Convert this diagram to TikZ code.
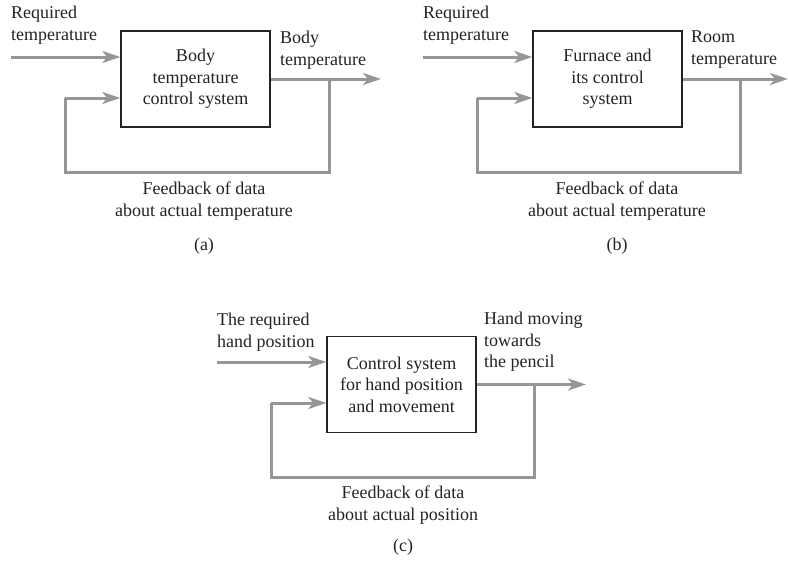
\documentclass[tikz,border=0pt]{standalone}
\usepackage{fontspec}
\setmainfont{Liberation Serif}
\usetikzlibrary{arrows.meta, positioning}
\definecolor{linegray}{RGB}{150,150,153}
\definecolor{inkgray}{RGB}{35,35,35}
\begin{document}
\begin{tikzpicture}[x=1pt,y=-1pt]

\tikzset{sysbox/.style = {shape=rectangle,draw=inkgray,line width=1.4pt,minimum width=149pt,minimum height=96pt,align=center,inner sep=0pt}}
\tikzset{lbl/.style = {align=left,inner sep=0pt,anchor=north west}}
\tikzset{note/.style = {align=center,inner sep=0pt}}
\tikzset{signal/.style = {draw=linegray,line width=3pt,-{Stealth[length=18pt,width=12pt,inset=5pt]}}}
\tikzset{loop/.style = {draw=linegray,line width=3pt}}
\tikzset{every node/.style = {text=inkgray,font=\fontsize{18}{21.5}\selectfont}}

\useasboundingbox (0,0) rectangle (788,565);

% (a) body temperature
\node[sysbox] (boxa) at (195.5,79) {Body\\temperature\\control system};
\node[lbl] (reqa) at (11,6) {Required\\temperature};
\node[lbl] (outlbla) at (280,31) {Body\\temperature};
\node[note] (fbtxta) at (204,201) {Feedback of data\\about actual temperature};
\node[note] (capa) at (204,246) {(a)};
\coordinate (ina) at (11,57);
\coordinate (outa) at (381,79);
\coordinate (taba) at (329,79);
\coordinate (fba) at (65,172);

\path[signal] (ina) -- (ina -| boxa.west);
\path[signal] (boxa.east) -- (outa);
\path[loop] (taba) |- (fba) -- (fba |- 0,98);
\path[signal] (fba |- 0,98) -- ([yshift=-19pt]boxa.west);

% (b) room temperature
\node[sysbox] (boxb) at (607.5,79) {Furnace and\\its control\\system};
\node[lbl] (reqb) at (423,6) {Required\\temperature};
\node[lbl] (outlblb) at (691,31) {Room\\temperature};
\node[note] (fbtxtb) at (617,201) {Feedback of data\\about actual temperature};
\node[note] (capb) at (617,246) {(b)};
\coordinate (inb) at (423,57);
\coordinate (outb) at (788,79);
\coordinate (tabb) at (740,79);
\coordinate (fbb) at (477,172);

\path[signal] (inb) -- (inb -| boxb.west);
\path[signal] (boxb.east) -- (outb);
\path[loop] (tabb) |- (fbb) -- (fbb |- 0,98);
\path[signal] (fbb |- 0,98) -- ([yshift=-19pt]boxb.west);

% (c) hand position
\node[sysbox] (boxc) at (401.5,384.5) {Control system\\for hand position\\and movement};
\node[lbl] (reqc) at (217,313) {The required\\hand position};
\node[lbl] (outlblc) at (484,312) {Hand moving\\towards\\the pencil};
\node[note] (fbtxtc) at (403,505) {Feedback of data\\about actual position};
\node[note] (capc) at (403,547) {(c)};
\coordinate (inc) at (217,362);
\coordinate (outc) at (586,384.5);
\coordinate (tabc) at (534,384.5);
\coordinate (fbc) at (271,477);

\path[signal] (inc) -- (inc -| boxc.west);
\path[signal] (boxc.east) -- (outc);
\path[loop] (tabc) |- (fbc) -- (fbc |- 0,403);
\path[signal] (fbc |- 0,403) -- ([yshift=-18.5pt]boxc.west);

\end{tikzpicture}
\end{document}
